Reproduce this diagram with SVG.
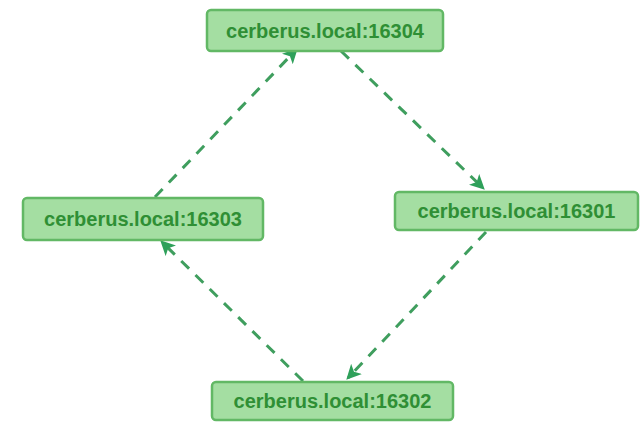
<svg xmlns="http://www.w3.org/2000/svg" width="643" height="422" viewBox="0 0 643 422">
  <style>
    .box { fill: #a4dea2; stroke: #62b865; stroke-width: 2.5; }
    .lbl { font-family: "Liberation Sans", Arial, sans-serif; font-weight: bold; font-size: 20px; fill: #2f8f35; text-anchor: middle; dominant-baseline: central; }
    .edge { fill: none; stroke: #3f9e5e; stroke-width: 3; stroke-dasharray: 11 9; marker-end: url(#arrow); }
  </style>
  <defs>
    <marker id="arrow" viewBox="0 0 12 12" refX="10" refY="6" markerWidth="15" markerHeight="15" markerUnits="userSpaceOnUse" orient="auto">
      <path d="M0,0 L12,6 L0,12 L3,6 Z" fill="#2ea05a"/>
    </marker>
  </defs>
  <rect width="643" height="422" fill="#ffffff"/>

  <g id="connectors">
    <path class="edge" d="M341,51 L483,188"/>
    <path class="edge" d="M486,232 L348,378"/>
    <path class="edge" d="M303,381 L162,242"/>
    <path class="edge" d="M155,197 L296,50"/>
  </g>

  <g id="node-16304">
    <rect class="box" x="207" y="10" width="236" height="41" rx="4"/>
    <text class="lbl" x="325" y="30.5">cerberus.local:16304</text>
  </g>
  <g id="node-16303">
    <rect class="box" x="23" y="198" width="240" height="42" rx="4"/>
    <text class="lbl" x="143" y="219">cerberus.local:16303</text>
  </g>
  <g id="node-16301">
    <rect class="box" x="395" y="192" width="243" height="38" rx="4"/>
    <text class="lbl" x="516.5" y="211">cerberus.local:16301</text>
  </g>
  <g id="node-16302">
    <rect class="box" x="212" y="382" width="241" height="38" rx="4"/>
    <text class="lbl" x="332.5" y="401">cerberus.local:16302</text>
  </g>
</svg>
